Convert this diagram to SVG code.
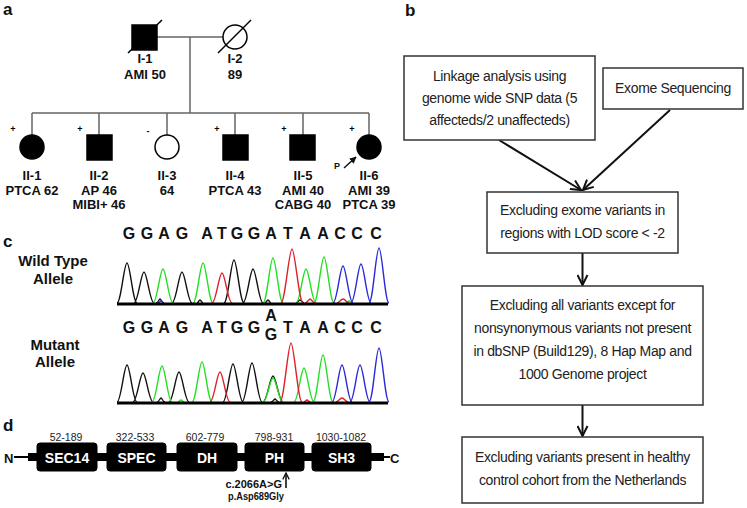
<svg xmlns="http://www.w3.org/2000/svg" width="747" height="508" viewBox="0 0 747 508">
<defs>
<style>
.lbl{font-family:"Liberation Sans",Arial,sans-serif;font-weight:bold;fill:#111}
.panel{font-family:"Liberation Sans",Arial,sans-serif;font-weight:bold;font-size:17px;fill:#111}
.ped{font-family:"Liberation Sans",Arial,sans-serif;font-weight:bold;font-size:13px;fill:#111;text-anchor:middle}
.lab{font-family:"Liberation Sans",Arial,sans-serif;font-weight:bold;font-size:15px;fill:#111;text-anchor:middle}
.pm{font-family:"Liberation Sans",Arial,sans-serif;font-weight:bold;font-size:9px;fill:#000;text-anchor:middle}
.pl{stroke:#666;stroke-width:1.5;fill:none}
.aff{fill:#000;stroke:#000;stroke-width:1.5}
.una{fill:#fff;stroke:#000;stroke-width:1.5}
.seq{font-family:"Liberation Sans",Arial,sans-serif;font-weight:bold;font-size:16px;fill:#111;text-anchor:middle}
.tr{fill:none;stroke-width:1.4}
.k{stroke:#111}.g{stroke:#22e022}.r{stroke:#e0202a}.b{stroke:#2a2ad8}
.dom{fill:#000;stroke:#000;stroke-width:1}
.domt{font-family:"Liberation Sans",Arial,sans-serif;font-weight:bold;font-size:14px;fill:#fff;text-anchor:middle}
.rng{font-family:"Liberation Sans",Arial,sans-serif;font-size:10.5px;fill:#222;text-anchor:middle}
.box{fill:#fff;stroke:#333;stroke-width:1.5}
.ft{font-family:"Liberation Sans",Arial,sans-serif;font-size:14px;letter-spacing:-0.35px;fill:#222;text-anchor:middle}
.fl{stroke:#111;stroke-width:2;fill:none}
</style>
<marker id="ah" viewBox="0 0 12 12" refX="11" refY="6" markerWidth="12" markerHeight="12" markerUnits="userSpaceOnUse" orient="auto">
<path d="M1,1 L11,6 L1,11" fill="none" stroke="#111" stroke-width="2"/>
</marker>
<marker id="ahs" viewBox="0 0 10 10" refX="9" refY="5" markerWidth="8" markerHeight="8" markerUnits="userSpaceOnUse" orient="auto">
<path d="M1,1 L9,5 L1,9" fill="none" stroke="#111" stroke-width="1.6"/>
</marker>
<marker id="ahf" viewBox="0 0 10 10" refX="9" refY="5" markerWidth="7" markerHeight="7" markerUnits="userSpaceOnUse" orient="auto">
<path d="M0,0 L10,5 L0,10 Z" fill="#111"/>
</marker>
</defs>
<rect width="747" height="508" fill="#fff"/>

<!-- panel labels -->
<text class="panel" x="3" y="15">a</text>
<text class="panel" x="405" y="16">b</text>
<text class="panel" x="3" y="247">c</text>
<text class="panel" x="3" y="431">d</text>

<!-- pedigree connectors -->
<g id="pedigree-lines">
<path class="pl" d="M157,37 H223 M190,37 V113 M32,113 H369 M32,113 V135 M99,113 V135 M167,113 V135 M235,113 V135 M303,113 V135 M369,113 V135"/>
</g>

<g id="I-1">
<rect class="aff" x="132" y="25" width="25" height="25"/>
<line x1="128" y1="53" x2="162" y2="20" stroke="#000" stroke-width="1.5"/>
<text class="ped" x="145" y="63">I-1</text>
<text class="ped" x="145" y="78.5">AMI 50</text>
</g>
<g id="I-2">
<circle class="una" cx="235" cy="37" r="12"/>
<line x1="218" y1="53" x2="251" y2="20" stroke="#000" stroke-width="1.5"/>
<text class="ped" x="235" y="63">I-2</text>
<text class="ped" x="235" y="78.5">89</text>
</g>
<g id="II-1">
<text class="pm" x="13" y="132">+</text>
<circle class="aff" cx="32" cy="147" r="12"/>
<text class="ped" x="32" y="180">II-1</text>
<text class="ped" x="32" y="194.5">PTCA 62</text>
</g>
<g id="II-2">
<text class="pm" x="80" y="132">+</text>
<rect class="aff" x="87" y="135" width="25" height="25"/>
<text class="ped" x="99" y="180">II-2</text>
<text class="ped" x="99" y="194.5">AP 46</text>
<text class="ped" x="99" y="209">MIBI+ 46</text>
</g>
<g id="II-3">
<text class="pm" x="148" y="134">-</text>
<circle class="una" cx="167" cy="147" r="12"/>
<text class="ped" x="167" y="180">II-3</text>
<text class="ped" x="167" y="194.5">64</text>
</g>
<g id="II-4">
<text class="pm" x="217" y="132">+</text>
<rect class="aff" x="223" y="135" width="25" height="25"/>
<text class="ped" x="235" y="180">II-4</text>
<text class="ped" x="235" y="194.5">PTCA 43</text>
</g>
<g id="II-5">
<text class="pm" x="284" y="132">+</text>
<rect class="aff" x="290" y="135" width="25" height="25"/>
<text class="ped" x="303" y="180">II-5</text>
<text class="ped" x="303" y="194.5">AMI 40</text>
<text class="ped" x="303" y="209">CABG 40</text>
</g>
<g id="II-6">
<text class="pm" x="352" y="132">+</text>
<circle class="aff" cx="369" cy="147" r="12"/>
<text class="lbl" x="334" y="169" font-size="9">P</text>
<line x1="344" y1="168" x2="356" y2="157" stroke="#111" stroke-width="1.5" marker-end="url(#ahf)"/>
<text class="ped" x="369" y="180">II-6</text>
<text class="ped" x="369" y="194.5">AMI 39</text>
<text class="ped" x="369" y="209">PTCA 39</text>
</g>

<!-- panel c -->
<g id="chromatograms">
<text class="lab" x="53" y="266">Wild Type</text>
<text class="lab" x="53" y="284">Allele</text>
<text class="lab" x="55" y="350">Mutant</text>
<text class="lab" x="55" y="367">Allele</text>

<g id="wt-seq">
<text class="seq" x="129" y="238.5">G</text><text class="seq" x="147" y="238.5">G</text><text class="seq" x="164" y="238.5">A</text><text class="seq" x="182" y="238.5">G</text>
<text class="seq" x="207" y="238.5">A</text><text class="seq" x="222" y="238.5">T</text><text class="seq" x="237" y="238.5">G</text><text class="seq" x="254" y="238.5">G</text>
<text class="seq" x="271" y="238.5">A</text><text class="seq" x="288" y="238.5">T</text><text class="seq" x="305" y="238.5">A</text><text class="seq" x="323" y="238.5">A</text>
<text class="seq" x="340" y="238.5">C</text><text class="seq" x="357" y="238.5">C</text><text class="seq" x="376" y="238.5">C</text>
</g>
<g id="wt-trace">
<path class="tr k" d="M117,303 C121,303 124,263 127,263 C130,263 133,303 137,303 M134,303 C138,303 141,272 144,272 C147,272 150,303 154,303 M156,303 C158,303 159,299 160,299 C161,299 162,303 164,303 M172,303 C176,303 179,272 182,272 C185,272 188,303 192,303 M197,303 C198,303 199,300 200,300 C201,300 202,303 203,303 M224,303 C228,303 231,260 234,260 C237,260 240,303 244,303 M243,303 C247,303 250,269 253,269 C256,269 259,303 263,303 M265,303 C266,303 267,300 268,300 C269,300 270,303 271,303 M296,303 C297,303 299,300 300,300 C301,300 303,303 304,303"/>
<path class="tr g" d="M153,303 C157,303 160,269 163,269 C166,269 169,303 173,303 M193,303 C197,303 200,263 203,263 C206,263 209,303 213,303 M263,303 C267,303 270,258 273,258 C276,258 279,303 283,303 M296,303 C300,303 303,269 306,269 C309,269 312,303 316,303 M314,303 C318,303 321,257 324,257 C327,257 330,303 334,303 M346,303 C347,303 348,301 349,301 C350,301 351,303 352,303"/>
<path class="tr r" d="M212,303 C216,303 219,273 222,273 C225,273 228,303 232,303 M281,303 C285,303 289,249 292,249 C295,249 299,303 303,303 M305,303 C307,303 309,299 310,299 C311,299 313,303 315,303 M337,303 C339,303 341,299 343,299 C345,299 347,303 349,303"/>
<path class="tr b" d="M333,303 C337,303 340,266 343,266 C346,266 349,303 353,303 M351,303 C355,303 358,264 361,264 C364,264 367,303 371,303 M369,303 C373,303 376,248 379,248 C382,248 385,303 389,303 M158,303 C159,303 160,301 161,301 C162,301 163,303 164,303"/>
<line x1="117" y1="304" x2="388" y2="304" stroke="#000" stroke-width="3"/>
</g>

<g id="mut-seq">
<text class="seq" x="129" y="333">G</text><text class="seq" x="147" y="333">G</text><text class="seq" x="164" y="333">A</text><text class="seq" x="182" y="333">G</text>
<text class="seq" x="207" y="333">A</text><text class="seq" x="222" y="333">T</text><text class="seq" x="237" y="333">G</text><text class="seq" x="254" y="333">G</text>
<text class="seq" x="271" y="321" font-size="12">A</text><text class="seq" x="271" y="340" font-size="15">G</text>
<text class="seq" x="288" y="333">T</text><text class="seq" x="305" y="333">A</text><text class="seq" x="323" y="333">A</text>
<text class="seq" x="340" y="333">C</text><text class="seq" x="357" y="333">C</text><text class="seq" x="376" y="333">C</text>
</g>
<g id="mut-trace">
<path class="tr k" d="M117,402 C121,402 124,365 127,365 C130,365 133,402 137,402 M133,402 C137,402 140,373 143,373 C146,373 149,402 153,402 M157,402 C159,402 160,398 161,398 C162,398 163,402 165,402 M169,402 C173,402 176,372 179,372 C182,372 185,402 189,402 M223,402 C227,402 230,364 233,364 C236,364 239,402 243,402 M242,402 C246,402 249,363 252,363 C255,363 258,402 262,402 M263,402 C267,402 270,376 273,376 C276,376 279,402 283,402 M271,402 C273,402 274,399 275,399 C276,399 277,402 279,402"/>
<path class="tr g" d="M152,402 C156,402 159,366 162,366 C165,366 168,402 172,402 M192,402 C196,402 199,362 202,362 C205,362 208,402 212,402 M263,402 C267,402 270,378 273,378 C276,378 279,402 283,402 M294,402 C298,402 301,368 304,368 C307,368 310,402 314,402 M313,402 C317,402 320,355 323,355 C326,355 329,402 333,402 M178,402 C179,402 180,400 181,400 C182,400 183,402 184,402"/>
<path class="tr r" d="M210,402 C214,402 217,372 220,372 C223,372 226,402 230,402 M280,402 C284,402 288,343 291,343 C294,343 298,402 302,402 M336,402 C338,402 340,398 342,398 C344,398 346,402 348,402 M304,402 C305,402 306,400 307,400 C308,400 309,402 310,402"/>
<path class="tr b" d="M332,402 C336,402 339,365 342,365 C345,365 348,402 352,402 M350,402 C354,402 357,365 360,365 C363,365 366,402 370,402 M369,402 C373,402 376,348 379,348 C382,348 385,402 389,402"/>
<line x1="117" y1="403" x2="388" y2="403" stroke="#000" stroke-width="3"/>
</g>
</g>

<!-- panel d -->
<g id="domains">
<text class="lbl" x="4" y="463" font-size="13">N</text>
<line x1="14" y1="457" x2="28" y2="457" stroke="#000" stroke-width="2"/>
<rect x="28" y="453" width="356" height="8" fill="#000"/>
<line x1="384" y1="457" x2="390" y2="457" stroke="#000" stroke-width="2"/>
<text class="lbl" x="390" y="463" font-size="13">C</text>
<g id="SEC14"><text class="rng" x="66" y="441">52-189</text><rect class="dom" x="37" y="443" width="60" height="28" rx="3"/><text class="domt" x="67" y="463">SEC14</text></g>
<g id="SPEC"><text class="rng" x="135" y="441">322-533</text><rect class="dom" x="107" y="443" width="59" height="28" rx="3"/><text class="domt" x="136.5" y="463">SPEC</text></g>
<g id="DH"><text class="rng" x="205" y="441">602-779</text><rect class="dom" x="177" y="443" width="60" height="28" rx="3"/><text class="domt" x="207" y="463">DH</text></g>
<g id="PH"><text class="rng" x="274" y="441">798-931</text><rect class="dom" x="245" y="443" width="59" height="28" rx="3"/><text class="domt" x="274.5" y="463">PH</text></g>
<g id="SH3"><text class="rng" x="341" y="441">1030-1082</text><rect class="dom" x="312" y="443" width="59" height="28" rx="3"/><text class="domt" x="341.5" y="463">SH3</text></g>
<line x1="286" y1="488" x2="286" y2="473" stroke="#111" stroke-width="1.6" marker-end="url(#ahs)"/>
<text class="lbl" x="282" y="488" font-size="11" text-anchor="end">c.2066A&gt;G</text>
<text class="lbl" x="256" y="500" font-size="11" text-anchor="middle" textLength="56" lengthAdjust="spacingAndGlyphs">p.Asp689Gly</text>
</g>

<!-- panel b flowchart connectors -->
<g id="flow-connectors">
<line class="fl" x1="499" y1="140" x2="581" y2="190" marker-end="url(#ah)"/>
<line class="fl" x1="670" y1="110" x2="583" y2="190" marker-end="url(#ah)"/>
<line class="fl" x1="582.5" y1="253" x2="582.5" y2="285" marker-end="url(#ah)"/>
<line class="fl" x1="582.5" y1="405" x2="582.5" y2="436" marker-end="url(#ah)"/>
</g>

<g id="box-linkage">
<rect class="box" x="404" y="56" width="191" height="84"/>
<text class="ft" x="499.5" y="81">Linkage analysis using</text>
<text class="ft" x="499.5" y="103">genome wide SNP  data (5</text>
<text class="ft" x="499.5" y="125">affecteds/2 unaffecteds)</text>
</g>
<g id="box-exome">
<rect class="box" x="603" y="68" width="140" height="41"/>
<text class="ft" x="673" y="93">Exome Sequencing</text>
</g>
<g id="box-lod">
<rect class="box" x="487" y="192" width="191" height="61"/>
<text class="ft" x="582.5" y="215">Excluding exome variants in</text>
<text class="ft" x="582.5" y="238">regions with  LOD score &lt; -2</text>
</g>
<g id="box-dbsnp">
<rect class="box" x="462" y="286" width="241" height="119"/>
<text class="ft" x="582.5" y="310">Excluding all variants except for</text>
<text class="ft" x="582.5" y="333">nonsynonymous variants not present</text>
<text class="ft" x="582.5" y="356">in dbSNP (Build129), 8 Hap Map and</text>
<text class="ft" x="582.5" y="379">1000 Genome project</text>
</g>
<g id="box-control">
<rect class="box" x="462" y="437" width="241" height="66"/>
<text class="ft" x="582.5" y="462">Excluding variants  present in healthy</text>
<text class="ft" x="582.5" y="485">control cohort from the Netherlands</text>
</g>
</svg>
